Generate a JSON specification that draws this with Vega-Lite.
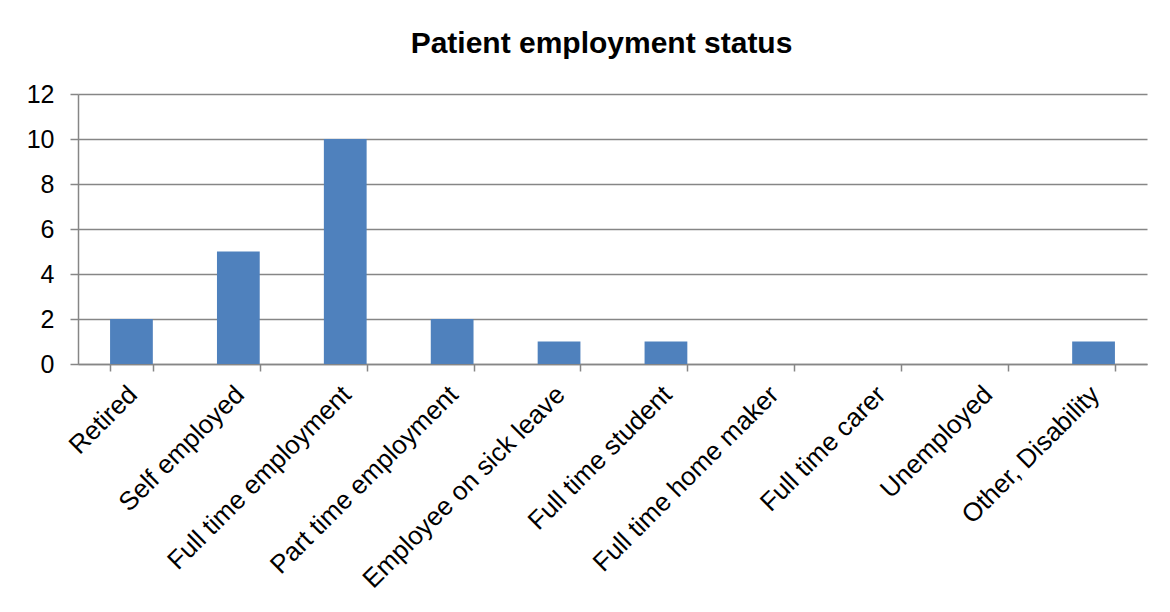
{
  "$schema": "https://vega.github.io/schema/vega-lite/v6.json",
  "width": 1069,
  "height": 270,
  "autosize": "none",
  "padding": {"left": 78, "top": 94, "right": 23, "bottom": 248},
  "background": "white",
  "title": {
    "text": "Patient employment status",
    "font": "Liberation Sans",
    "fontSize": 30,
    "fontWeight": "bold",
    "color": "#000000",
    "anchor": "middle",
    "dx": -11,
    "dy": 40,
    "offset": 39,
    "baseline": "alphabetic"
  },
  "data": {
    "values": [
      {"status": "Retired", "count": 2},
      {"status": "Self employed", "count": 5},
      {"status": "Full time employment", "count": 10},
      {"status": "Part time employment", "count": 2},
      {"status": "Employee on sick leave", "count": 1},
      {"status": "Full time student", "count": 1},
      {"status": "Full time home maker", "count": 0},
      {"status": "Full time carer", "count": 0},
      {"status": "Unemployed", "count": 0},
      {"status": "Other, Disability", "count": 1}
    ]
  },
  "config": {
    "view": {"stroke": null}
  },
  "mark": {"type": "bar", "color": "#4F81BD"},
  "encoding": {
    "x": {
      "field": "status",
      "type": "nominal",
      "sort": null,
      "title": null,
      "scale": {"paddingInner": 0.6, "paddingOuter": 0.3},
      "axis": {
        "labelFont": "Liberation Sans",
        "labelFontSize": 26,
        "labelColor": "#000000",
        "labelLimit": 0,
        "labelAngle": -45,
        "labelAlign": "right",
        "labelBaseline": "top",
        "labelOffset": -8,
        "labelPadding": 10,
        "labelOverlap": false,
        "domainColor": "#868686",
        "domainWidth": 1.5,
        "tickColor": "#868686",
        "tickWidth": 1.5,
        "tickBand": "extent",
        "tickSize": 7,
        "grid": false
      }
    },
    "y": {
      "field": "count",
      "type": "quantitative",
      "title": null,
      "scale": {"domain": [0, 12]},
      "axis": {
        "values": [0, 2, 4, 6, 8, 10, 12],
        "labelFont": "Liberation Sans",
        "labelFontSize": 25,
        "labelColor": "#000000",
        "domainColor": "#868686",
        "domainWidth": 1.5,
        "tickColor": "#868686",
        "tickWidth": 1.5,
        "gridColor": "#868686",
        "gridWidth": 1.5,
        "tickSize": 8,
        "labelPadding": 16,
        "grid": true
      }
    }
  }
}
